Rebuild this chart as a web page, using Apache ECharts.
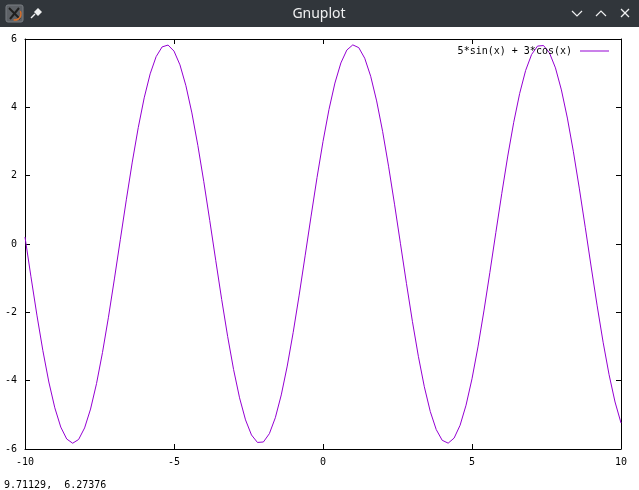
<!DOCTYPE html>
<html>
<head>
<meta charset="utf-8">
<script src="https://cdn.jsdelivr.net/npm/echarts@6/dist/echarts.min.js"></script>
<style>html,body{margin:0;padding:0;background:#fff;}#c{width:639px;height:490px;}</style>
</head>
<body>
<div id="c"></div>
<script>
var windowTitle = "Gnuplot";
var seriesName = "5*sin(x) + 3*cos(x)";
var statusText = "9.71129,  6.27376";
var xTicks = [-10, -5, 0, 5, 10];
var yTicks = [-6, -4, -2, 0, 2, 4, 6];
var xs = [-10,-9.8,-9.6,-9.4,-9.2,-9,-8.8,-8.6,-8.4,-8.2,-8,-7.8,-7.6,-7.4,-7.2,-7,-6.8,-6.6,-6.4,-6.2,-6,-5.8,-5.6,-5.4,-5.2,-5,-4.8,-4.6,-4.4,-4.2,-4,-3.8,-3.6,-3.4,-3.2,-3,-2.8,-2.6,-2.4,-2.2,-2,-1.8,-1.6,-1.4,-1.2,-1,-0.8,-0.6,-0.4,-0.2,0,0.2,0.4,0.6,0.8,1,1.2,1.4,1.6,1.8,2,2.2,2.4,2.6,2.8,3,3.2,3.4,3.6,3.8,4,4.2,4.4,4.6,4.8,5,5.2,5.4,5.6,5.8,6,6.2,6.4,6.6,6.8,7,7.2,7.4,7.6,7.8,8,8.2,8.4,8.6,8.8,9,9.2,9.4,9.6,9.8,10];
var ys = [0.203,-0.959,-2.082,-3.123,-4.039,-4.794,-5.358,-5.708,-5.831,-5.721,-5.383,-4.831,-4.086,-3.178,-2.143,-1.023,0.138,1.293,2.397,3.405,4.278,4.980,5.483,5.768,5.823,5.646,5.243,4.632,3.836,2.887,1.823,0.686,-0.478,-1.623,-2.703,-3.676,-4.502,-5.148,-5.589,-5.808,-5.795,-5.551,-5.085,-4.417,-3.573,-2.586,-1.497,-0.347,0.816,1.947,3.000,3.934,4.710,5.299,5.677,5.828,5.747,5.437,4.910,4.188,3.298,2.277,1.165,0.007,-1.152,-2.264,-3.287,-4.178,-4.903,-5.432,-5.745,-5.829,-5.680,-5.305,-4.718,-3.944,-3.012,-1.960,-0.830,0.334,1.483,2.574,3.562,4.408,5.079,5.547,5.793,5.809,5.593,5.155,4.510,3.686,2.715,1.636,0.491,-0.673,-1.810,-2.875,-3.826,-4.624,-5.237];

var data = xs.map(function (x, i) { return [x, ys[i]]; });
var mono = "DejaVu Sans Mono";
var lbl = {color: '#000', fontFamily: mono, fontSize: 10};

function axisX(pos, show) {
  return {type: 'value', position: pos, min: xTicks[0], max: xTicks[xTicks.length - 1], interval: 5,
    axisLine: {show: true, onZero: false, lineStyle: {color: '#000', width: 1}},
    axisTick: {show: true, inside: true, length: 5, lineStyle: {color: '#000'}},
    axisLabel: Object.assign({show: show, margin: 8}, lbl),
    splitLine: {show: false}};
}
function axisY(pos, show) {
  return {type: 'value', position: pos, min: yTicks[0], max: yTicks[yTicks.length - 1], interval: 2,
    axisLine: {show: true, onZero: false, lineStyle: {color: '#000', width: 1}},
    axisTick: {show: true, inside: true, length: 5, lineStyle: {color: '#000'}},
    axisLabel: Object.assign({show: show, margin: 8}, lbl),
    splitLine: {show: false}};
}

var chart = echarts.init(document.getElementById('c'), null, {renderer: 'canvas'});
chart.setOption({
  animation: false,
  backgroundColor: '#fff',
  grid: {left: 25, right: 18, top: 39, bottom: 41, containLabel: false},
  xAxis: [axisX('bottom', true), axisX('top', false)],
  yAxis: [axisY('left', true), axisY('right', false)],
  legend: {
    right: 25, top: 41, align: 'right', icon: 'rect', itemWidth: 29, itemHeight: 1, itemGap: 0,
    textStyle: {color: '#000', fontFamily: mono, fontSize: 10, padding: [0, 3, 0, 0]},
    data: [{name: seriesName}]
  },
  series: [{
    name: seriesName, type: 'line', xAxisIndex: 0, yAxisIndex: 0,
    data: data, symbol: 'none', smooth: false,
    lineStyle: {color: '#9400d3', width: 1}, itemStyle: {color: '#9400d3'}
  }],
  graphic: [
    {type: 'rect', left: 0, top: 0, shape: {x: 0, y: 0, width: 639, height: 27}, style: {fill: '#31363b'}, z: 100},
    {type: 'text', x: 319, y: 14, style: {text: windowTitle, fill: '#eff0f1', font: '14px "Noto Sans"', textAlign: 'center', textVerticalAlign: 'middle'}, z: 101},
    {type: 'rect', shape: {x: 6, y: 5, width: 17, height: 17, r: 2}, style: {fill: '#5d6166', stroke: '#7a7e83', lineWidth: 1}, z: 101},
    {type: 'polyline', shape: {points: [[9, 8], [20, 19]]}, style: {stroke: '#1f1f1f', lineWidth: 2}, z: 102},
    {type: 'polyline', shape: {points: [[19, 8], [10, 19]]}, style: {stroke: '#1f1f1f', lineWidth: 2}, z: 102},
    {type: 'arc', shape: {cx: 15, cy: 14, r: 6, startAngle: -0.5, endAngle: 1.8}, style: {stroke: '#d9702a', lineWidth: 1.5, fill: null}, z: 102},
    {type: 'polyline', shape: {points: [[31, 18], [35, 14]]}, style: {stroke: '#eff0f1', lineWidth: 1.5}, z: 101},
    {type: 'polygon', shape: {points: [[34, 12], [38, 8], [42, 12], [38, 16]]}, style: {fill: '#eff0f1'}, z: 101},
    {type: 'polyline', shape: {points: [[572, 11], [577, 16], [582, 11]]}, style: {stroke: '#eff0f1', lineWidth: 1.2, fill: null}, z: 101},
    {type: 'polyline', shape: {points: [[596, 16], [601, 11], [606, 16]]}, style: {stroke: '#eff0f1', lineWidth: 1.2, fill: null}, z: 101},
    {type: 'polyline', shape: {points: [[621, 9], [629, 17]]}, style: {stroke: '#eff0f1', lineWidth: 1.2}, z: 101},
    {type: 'polyline', shape: {points: [[629, 9], [621, 17]]}, style: {stroke: '#eff0f1', lineWidth: 1.2}, z: 101},
    {type: 'text', x: 4, y: 485, style: {text: statusText, fill: '#000', font: '10px "DejaVu Sans Mono"', textVerticalAlign: 'middle'}, z: 101}
  ]
});
</script>
</body>
</html>
